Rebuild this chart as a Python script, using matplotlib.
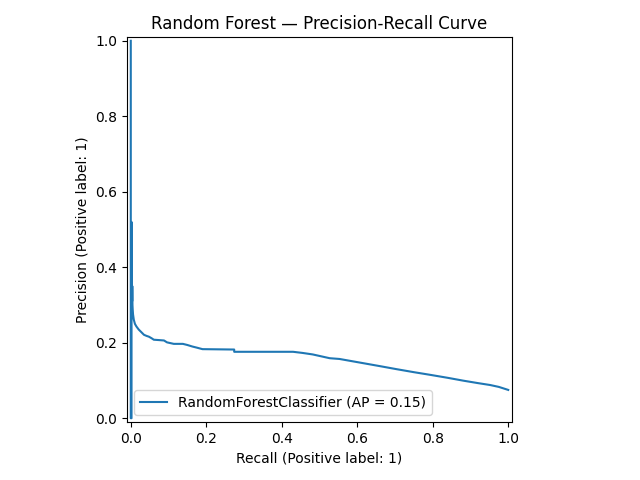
import matplotlib
matplotlib.use("Agg")
import matplotlib.pyplot as plt

# Precision-recall curve points (increasing recall)
recall = [0.0, 0.0, 0.002, 0.002, 0.0025, 0.003, 0.0035, 0.004, 0.0045, 0.005,
          0.006, 0.008, 0.011, 0.015, 0.021, 0.028, 0.035, 0.042, 0.048, 0.055,
          0.061, 0.075, 0.088, 0.096, 0.105, 0.114, 0.138, 0.150, 0.163, 0.175,
          0.190, 0.274, 0.274, 0.350, 0.430, 0.455, 0.482, 0.527, 0.553, 0.615,
          0.660, 0.704, 0.750, 0.793, 0.840, 0.881, 0.920, 0.952, 0.975, 1.0]
precision = [1.0, 0.0, 0.0, 0.52, 0.34, 0.37, 0.31, 0.35, 0.30, 0.29,
             0.275, 0.261, 0.25, 0.243, 0.235, 0.228, 0.221, 0.218, 0.216, 0.212,
             0.208, 0.207, 0.206, 0.201, 0.199, 0.197, 0.197, 0.194, 0.190, 0.187,
             0.183, 0.182, 0.176, 0.176, 0.176, 0.173, 0.169, 0.159, 0.157, 0.146,
             0.138, 0.130, 0.122, 0.115, 0.107, 0.0995, 0.093, 0.088, 0.083, 0.075]
ap = 0.15
ticks = [0.0, 0.2, 0.4, 0.6, 0.8, 1.0]

fig = plt.figure(figsize=(6.4, 4.8), dpi=100)
ax = fig.add_axes([127 / 640, 58 / 480, 385 / 640, 385 / 480])
ax.plot(recall, precision, color="#1f77b4",
        label=f"RandomForestClassifier (AP = {ap:.2f})")
ax.set_xlim(-0.01, 1.01)
ax.set_ylim(-0.01, 1.01)
ax.set_xticks(ticks)
ax.set_yticks(ticks)
ax.set_xlabel("Recall (Positive label: 1)")
ax.set_ylabel("Precision (Positive label: 1)")
ax.set_title("Random Forest — Precision-Recall Curve")
ax.legend(loc="lower left")
fig.savefig("out.png", dpi=100)
